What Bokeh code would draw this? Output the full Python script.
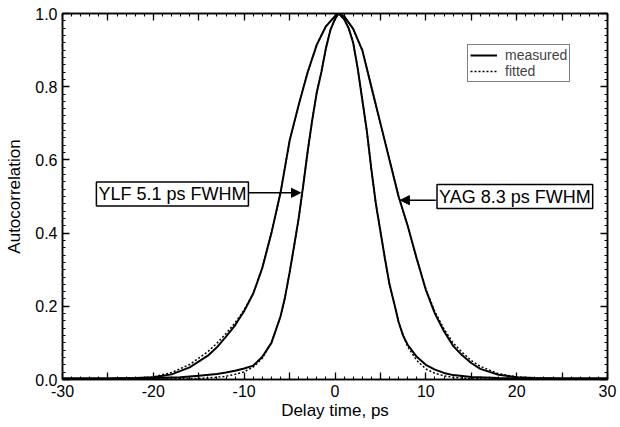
from bokeh.plotting import figure
from bokeh.embed import file_html
from bokeh.resources import INLINE
from bokeh.models import (FixedTicker, LinearAxis, Range1d, Legend, LegendItem, Label,
                          Arrow, NormalHead, CustomJSTickFormatter, NumeralTickFormatter)

# ---- data ----
yag_x = [-30, -25, -22, -20, -18, -16, -14, -13, -12, -11, -10, -9, -8, -7, -6, -5, -4, -3, -2, -1,
         0, 0.4, 1, 2, 3, 4, 5, 6, 7, 8, 9, 10, 11, 12, 13, 14, 15, 16, 18, 20, 22, 25, 30]
yag_measured = [0.003, 0.003, 0.004, 0.006, 0.014, 0.033, 0.065, 0.088, 0.117, 0.148,
                0.187, 0.235, 0.305, 0.40, 0.51, 0.652, 0.75, 0.84, 0.915, 0.965,
                0.993, 1.0, 0.993, 0.958, 0.90, 0.80, 0.70, 0.60, 0.50, 0.42,
                0.33, 0.245, 0.18, 0.132, 0.092, 0.066, 0.045, 0.029, 0.013, 0.006,
                0.004, 0.003, 0.003]
yag_fitted = [0.0, 0.001, 0.003, 0.007, 0.019, 0.041, 0.076, 0.099, 0.126, 0.155,
              0.19, 0.235, 0.305, 0.40, 0.51, 0.652, 0.75, 0.84, 0.915, 0.965,
              0.993, 1.0, 0.993, 0.958, 0.90, 0.80, 0.70, 0.60, 0.50, 0.42,
              0.33, 0.247, 0.185, 0.138, 0.10, 0.074, 0.052, 0.036, 0.016, 0.007,
              0.003, 0.001, 0.0]

ylf_x = [-30, -25, -20, -17, -15, -13, -12, -11, -10, -9, -8, -7, -6, -5.5, -5, -4.5, -4, -3.5, -3, -2.5,
         -2, -1.5, -1, -0.5, 0, 0.4, 1, 1.5, 2, 2.5, 3, 3.5, 4, 4.5, 5, 5.5, 6, 6.5, 7, 7.5,
         8, 9, 10, 11, 12, 13, 15, 18, 22, 30]
ylf_measured = [0.003, 0.003, 0.004, 0.006, 0.01, 0.015, 0.019, 0.024, 0.03, 0.038,
                0.062, 0.10, 0.172, 0.225, 0.292, 0.365, 0.44, 0.53, 0.625, 0.71,
                0.785, 0.84, 0.905, 0.955, 0.985, 1.0, 0.985, 0.96, 0.92, 0.85,
                0.765, 0.68, 0.575, 0.48, 0.405, 0.33, 0.26, 0.21, 0.157, 0.12,
                0.095, 0.062, 0.04, 0.027, 0.018, 0.012, 0.007, 0.004, 0.003, 0.003]
ylf_fitted = [0.0, 0.0, 0.001, 0.002, 0.003, 0.006, 0.009, 0.014, 0.021, 0.034,
              0.058, 0.10, 0.172, 0.225, 0.292, 0.365, 0.44, 0.53, 0.625, 0.71,
              0.785, 0.84, 0.905, 0.955, 0.985, 1.0, 0.985, 0.96, 0.92, 0.85,
              0.765, 0.68, 0.575, 0.48, 0.405, 0.33, 0.26, 0.21, 0.157, 0.12,
              0.09, 0.052, 0.029, 0.017, 0.010, 0.006, 0.002, 0.001, 0.0, 0.0]

x_ticks = [-30, -25, -20, -15, -10, -5, 0, 5, 10, 15, 20, 25, 30]
x_minor = list(range(-30, 31))
y_ticks = [0.0, 0.2, 0.4, 0.6, 0.8, 1.0]
y_minor = [round(i * 0.02, 2) for i in range(51)]

FONT = "Liberation Sans"

p = figure(width=620, height=427, x_range=Range1d(-30, 30), y_range=Range1d(0, 1),
           output_backend="svg", toolbar_location=None,
           min_border_left=62, min_border_right=13, min_border_top=13, min_border_bottom=48)
p.grid.visible = False
p.outline_line_color = "black"
p.outline_line_width = 1.5
p.background_fill_color = "white"
p.border_fill_color = "white"

xt = FixedTicker(ticks=x_ticks, minor_ticks=x_minor)
yt = FixedTicker(ticks=y_ticks, minor_ticks=y_minor)

def style_axis(ax):
    ax.axis_line_color = "black"
    ax.axis_line_width = 1.5
    ax.major_tick_line_color = "black"
    ax.minor_tick_line_color = "black"
    ax.major_tick_line_width = 1.3
    ax.minor_tick_line_width = 1.1
    ax.major_tick_in = 7
    ax.major_tick_out = 0
    ax.minor_tick_in = 3
    ax.minor_tick_out = 0
    ax.major_label_text_font = FONT
    ax.major_label_text_font_size = "16px"
    ax.major_label_text_color = "black"
    ax.axis_label_text_font = FONT
    ax.axis_label_text_font_size = "17px"
    ax.axis_label_text_font_style = "normal"
    ax.axis_label_text_color = "black"

xa = p.xaxis[0]
xa.ticker = xt
xa.formatter = CustomJSTickFormatter(code="return (tick % 10 === 0) ? tick.toFixed(0) : '';")
xa.axis_label = "Delay time, ps"
style_axis(xa)
xa.major_label_standoff = 5
xa.axis_label_standoff = 1

ya = p.yaxis[0]
ya.ticker = yt
ya.formatter = NumeralTickFormatter(format="0.0")
ya.axis_label = "Autocorrelation"
style_axis(ya)
ya.major_label_standoff = 5
ya.axis_label_standoff = 8

blank = "return '';"
top = LinearAxis(ticker=xt, formatter=CustomJSTickFormatter(code=blank))
style_axis(top)
top.major_label_standoff = 0
p.add_layout(top, "above")
right = LinearAxis(ticker=yt, formatter=CustomJSTickFormatter(code=blank))
style_axis(right)
right.major_label_standoff = 0
p.add_layout(right, "right")

r_yag_m = p.line(yag_x, yag_measured, line_color="black", line_width=2)
r_ylf_m = p.line(ylf_x, ylf_measured, line_color="black", line_width=2)
r_yag_f = p.line(yag_x, yag_fitted, line_color="black", line_width=1.5, line_dash="2 2")
r_ylf_f = p.line(ylf_x, ylf_fitted, line_color="black", line_width=1.5, line_dash="2 2")

legend = Legend(items=[LegendItem(label="measured", renderers=[r_yag_m]),
                       LegendItem(label="fitted", renderers=[r_yag_f])],
                location=(405, 297))
legend.border_line_color = "black"
legend.border_line_width = 1.5
legend.padding = 2
legend.spacing = 0
legend.margin = 0
legend.label_text_font = FONT
legend.label_text_font_size = "14px"
legend.label_height = 12
legend.glyph_height = 12
legend.glyph_width = 27
legend.label_standoff = 8
legend.background_fill_alpha = 1
p.add_layout(legend)

# annotations
for (lx, ly, txt) in [(-17.9, 0.507, "YLF 5.1 ps FWHM"), (19.8, 0.50, "YAG 8.3 ps FWHM")]:
    p.add_layout(Label(x=lx, y=ly, text=txt, text_align="center", text_baseline="middle",
                       text_font=FONT, text_font_size="18px", text_color="black",
                       border_line_color="black", border_line_width=1.5,
                       background_fill_color="white", padding=2))

p.add_layout(Arrow(end=NormalHead(size=9, fill_color="black", line_color="black", line_width=1),
                   x_start=-9.5, y_start=0.51, x_end=-3.8, y_end=0.51,
                   line_color="black", line_width=1.5))
p.add_layout(Arrow(end=NormalHead(size=9, fill_color="black", line_color="black", line_width=1),
                   x_start=11.1, y_start=0.49, x_end=7.2, y_end=0.49,
                   line_color="black", line_width=1.5))

open("out.html", "w").write(file_html(p, INLINE))
